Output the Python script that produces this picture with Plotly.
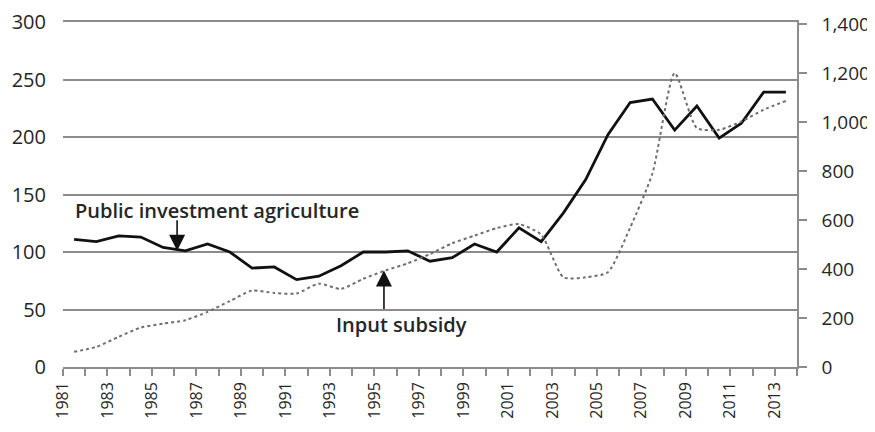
import plotly.graph_objects as go

# Anos e series
ANOS = list(range(1981, 2014))
INVESTIMENTO_PUBLICO = [
    111, 109, 114, 113, 104, 101, 107, 100, 86, 87, 76,
    79, 88, 100, 100, 101, 92, 95, 107, 100, 121, 109,
    134, 163, 202, 230, 233, 206, 227, 199, 212, 239, 239,
]
SUBSIDIO_INSUMOS = [
    62, 82, 123, 161, 177, 191, 225, 269, 312, 302, 300,
    340, 319, 360, 394, 423, 461, 505, 536, 567, 583, 540,
    366, 366, 387, 569, 790, 1200, 975, 968, 1002, 1050, 1086,
]
ROTULOS_ANOS = [str(a) if a % 2 == 1 and a <= 2013 else "" for a in range(1981, 2015)]

FONTE = "Open Sans, DejaVu Sans, sans-serif"
COR_TEXTO = "#262626"
COR_GRADE = "#8c8c8c"

# pontos desenhados no meio de cada intervalo anual
x_meio = [a + 0.5 for a in ANOS]

figura = go.Figure()
figura.add_trace(
    go.Scatter(
        x=x_meio,
        y=SUBSIDIO_INSUMOS,
        mode="lines",
        name="Input subsidy",
        yaxis="y2",
        line={"color": "#6e6e6e", "width": 2, "dash": "dot", "shape": "spline", "smoothing": 0.6},
        showlegend=False,
    )
)
figura.add_trace(
    go.Scatter(
        x=x_meio,
        y=INVESTIMENTO_PUBLICO,
        mode="lines",
        name="Public investment agriculture",
        line={"color": "#111111", "width": 2.8},
        showlegend=False,
    )
)

figura.add_annotation(
    x=1981.45, y=136.5, text="Public investment agriculture",
    showarrow=False, xanchor="left", yanchor="middle",
    font={"family": FONTE, "size": 20, "weight": 600, "color": COR_TEXTO},
)
figura.add_annotation(
    x=1986.13, y=101, ax=0, ay=-32, text="",
    showarrow=True, arrowhead=2, arrowsize=2, arrowwidth=1.6, arrowcolor="#111111",
)
figura.add_annotation(
    x=1993.2, y=37, text="Input subsidy",
    showarrow=False, xanchor="left", yanchor="middle",
    font={"family": FONTE, "size": 20, "weight": 600, "color": COR_TEXTO},
)
figura.add_annotation(
    x=1995.43, y=84, ax=0, ay=40, text="",
    showarrow=True, arrowhead=2, arrowsize=2, arrowwidth=1.6, arrowcolor="#111111",
)

# a pagina tem margem de 8px no body; a figura e reduzida para caber na janela
figura.update_layout(
    width=867,
    height=424,
    margin={"l": 55, "r": 78, "t": 14, "b": 65},
    paper_bgcolor="white",
    plot_bgcolor="white",
    font={"family": FONTE, "color": COR_TEXTO},
    xaxis={
        "range": [1981, 2014],
        "tickmode": "array",
        "tickvals": list(range(1981, 2015)),
        "ticktext": ROTULOS_ANOS,
        "tickangle": -90,
        "ticks": "outside",
        "ticklen": 7,
        "tickwidth": 1.5,
        "tickcolor": COR_GRADE,
        "showline": True,
        "mirror": True,
        "linecolor": COR_GRADE,
        "linewidth": 1.5,
        "showgrid": False,
        "zeroline": False,
        "automargin": False,
        "ticklabeloverflow": "allow",
        "tickfont": {"size": 16, "color": COR_TEXTO},
    },
    yaxis={
        "range": [0, 300],
        "tickvals": [0, 50, 100, 150, 200, 250, 300],
        "showgrid": True,
        "gridcolor": COR_GRADE,
        "gridwidth": 1.5,
        "zeroline": False,
        "ticks": "",
        "automargin": False,
        "ticklabeloverflow": "allow",
        "ticklabelstandoff": 16,
        "tickfont": {"size": 20, "color": COR_TEXTO},
    },
    yaxis2={
        "range": [0, 1408],
        "tickvals": [0, 200, 400, 600, 800, 1000, 1200, 1400],
        "overlaying": "y",
        "side": "right",
        "showgrid": False,
        "zeroline": False,
        "showline": True,
        "linecolor": COR_GRADE,
        "linewidth": 1.5,
        "ticks": "outside",
        "ticklen": 8,
        "tickwidth": 1.5,
        "tickcolor": COR_GRADE,
        "tickformat": ",",
        "automargin": False,
        "ticklabeloverflow": "allow",
        "ticklabelstandoff": 11,
        "tickfont": {"size": 19, "color": COR_TEXTO},
    },
)

figura.write_html("out.html")
